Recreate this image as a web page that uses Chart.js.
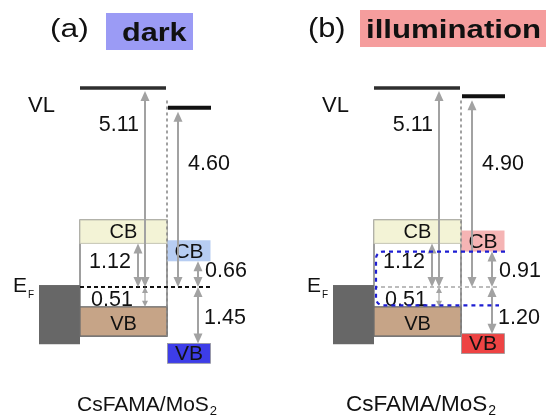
<!DOCTYPE html>
<html>
<head>
<meta charset="utf-8">
<script src="https://cdn.jsdelivr.net/npm/chart.js@4/dist/chart.umd.min.js"></script>
<style>
  html, body { margin: 0; padding: 0; background: #fff; }
  #wrap { width: 546px; height: 416px; }
</style>
</head>
<body>
<div id="wrap"><canvas id="bands" width="546" height="416"></canvas></div>
<script>
// Energy-level alignment of CsFAMA perovskite on MoS2 (eV, referenced to E_F = 0)
const panelTags     = ['(a)', '(b)'];
const conditions    = ['dark', 'illumination'];
const perovskiteVL  = [5.11, 5.11];   // vacuum level above E_F (work function)
const perovskiteCB  = [1.12, 1.12];   // CB minimum above E_F
const perovskiteVB  = [-0.51, -0.51]; // VB maximum below E_F
const mos2VL        = [4.60, 4.90];
const mos2CB        = [0.66, 0.91];
const mos2VB        = [-1.45, -1.20];
const quasiFermi    = [null, [0.91, -0.47]]; // split quasi-Fermi levels under light

// Visible energy window of the drawing
const Y_MIN = -3.313, Y_MAX = 7.370;

// Horizontal layout of one panel (x scale runs 0..546), and band thicknesses in eV
const panelOffset = [0, 294];
const L = {
  elec: [39, 80], pvk: [80, 167], mos: [167.5, 210.5],
  pvkVL: [80, 166], mosVL: [168, 211], efEnd: [212, 206],
  arrCB: 138, arrVL: 145, arrMosVL: 178, arrMos: 198,
  pvkCBh: 0.60, pvkVBh: 0.75, mosCBh: 0.54, mosVBh: 0.51, elecDepth: 1.47
};
const colors = {
  elec: '#676767', pvkCB: '#f3f3d6', pvkVB: '#c6a487', frame: '#6c6c6c',
  mosCB: ['#b7cdf2', '#f5b4b4'], mosVB: ['#3d3de8', '#ee4343'],
  tag: ['#9b9bf5', '#f59d9d'], arrow: '#a2a2a2', text: '#111',
  ef: ['#111', '#bcbcbc'], qf: '#1e1ed2'
};
const FONT = "'Liberation Sans', Arial, sans-serif";

// Straight level lines handled as line datasets
const datasets = [];
function seg(x0, x1, y0, y1, style) {
  datasets.push(Object.assign({
    data: [{ x: x0, y: y0 }, { x: x1, y: y1 }],
    pointRadius: 0, fill: false, tension: 0
  }, style));
}
for (let p = 0; p < 2; p++) {
  const o = panelOffset[p];
  seg(o + L.pvkVL[0], o + L.pvkVL[1], perovskiteVL[p], perovskiteVL[p], { borderColor: '#2e2e2e', borderWidth: 3.5 });
  seg(o + L.mosVL[0], o + L.mosVL[1], mos2VL[p], mos2VL[p], { borderColor: '#111', borderWidth: 4 });
  seg(o + L.pvk[0], o + L.efEnd[p], 0, 0, { borderColor: colors.ef[p], borderWidth: 2, borderDash: [4, 3] });
  seg(o + L.pvk[1], o + L.pvk[1], perovskiteVL[p] - 0.32, perovskiteVB[p] - L.pvkVBh,
      { borderColor: '#8a8a8a', borderWidth: 1.6, borderDash: [3, 3] });
}

function arrow(ctx, x, ya, yb, w, hw, hl, color) {
  const top = Math.min(ya, yb), bot = Math.max(ya, yb);
  ctx.save();
  ctx.strokeStyle = color; ctx.fillStyle = color; ctx.lineWidth = w;
  ctx.beginPath(); ctx.moveTo(x, top + hl - 1); ctx.lineTo(x, bot - hl + 1); ctx.stroke();
  ctx.beginPath(); ctx.moveTo(x, top); ctx.lineTo(x - hw / 2, top + hl); ctx.lineTo(x + hw / 2, top + hl); ctx.closePath(); ctx.fill();
  ctx.beginPath(); ctx.moveTo(x, bot); ctx.lineTo(x - hw / 2, bot - hl); ctx.lineTo(x + hw / 2, bot - hl); ctx.closePath(); ctx.fill();
  ctx.restore();
}

function text(ctx, str, x, y, size, opts) {
  opts = opts || {};
  ctx.save();
  ctx.font = (opts.bold ? 'bold ' : '') + size + 'px ' + FONT;
  ctx.fillStyle = opts.color || colors.text;
  ctx.textAlign = opts.align || 'left';
  ctx.textBaseline = opts.baseline || 'middle';
  const sx = opts.scaleX || 1;
  ctx.translate(x, y);
  ctx.scale(sx, 1);
  ctx.fillText(str, 0, 0);
  const w = ctx.measureText(str).width * sx;
  ctx.restore();
  return w;
}

const bandPlugin = {
  id: 'bandDiagram',
  beforeDatasetsDraw(chart) {
    const { ctx, scales: { x, y } } = chart;
    const rect = (x0, x1, e0, e1, fill, stroke, lw) => {
      const px = x.getPixelForValue(x0), pw = x.getPixelForValue(x1) - px;
      const py = y.getPixelForValue(e0), ph = y.getPixelForValue(e1) - py;
      ctx.fillStyle = fill; ctx.fillRect(px, py, pw, ph);
      if (stroke) { ctx.strokeStyle = stroke; ctx.lineWidth = lw || 1; ctx.strokeRect(px, py, pw, ph); }
    };
    ctx.save();
    for (let p = 0; p < 2; p++) {
      const o = panelOffset[p];
      // metal contact
      rect(o + L.elec[0], o + L.elec[1], 0.05, -L.elecDepth, colors.elec);
      // perovskite frame and bands
      rect(o + L.pvk[0], o + L.pvk[1], perovskiteCB[p] + L.pvkCBh, perovskiteVB[p] - L.pvkVBh, '#fff', colors.frame, 1.3);
      rect(o + L.pvk[0], o + L.pvk[1], perovskiteCB[p] + L.pvkCBh, perovskiteCB[p], colors.pvkCB, '#c4c4b4', 1);
      rect(o + L.pvk[0], o + L.pvk[1], perovskiteVB[p], perovskiteVB[p] - L.pvkVBh, colors.pvkVB, colors.frame, 1.3);
      // MoS2 bands
      rect(o + L.mos[0], o + L.mos[1], mos2CB[p] + L.mosCBh, mos2CB[p], colors.mosCB[p]);
      rect(o + L.mos[0], o + L.mos[1], mos2VB[p], mos2VB[p] - L.mosVBh, colors.mosVB[p], '#9a9a9a', 0.8);
    }
    ctx.restore();
  },
  afterDatasetsDraw(chart) {
    const { ctx, scales: { x, y } } = chart;
    const X = v => x.getPixelForValue(v), Y = v => y.getPixelForValue(v);
    for (let p = 0; p < 2; p++) {
      const o = panelOffset[p];
      const ef = Y(0);
      // band names
      const pvkMid = X(o + (L.pvk[0] + L.pvk[1]) / 2), mosMid = X(o + (L.mos[0] + L.mos[1]) / 2);
      text(ctx, 'CB', pvkMid, Y(perovskiteCB[p] + L.pvkCBh / 2) + 1, 20, { align: 'center' });
      text(ctx, 'VB', pvkMid, Y(perovskiteVB[p] - L.pvkVBh / 2) + 3, 20, { align: 'center' });
      text(ctx, 'CB', mosMid, Y(mos2CB[p] + L.mosCBh / 2) + 1, 21, { align: 'center' });
      text(ctx, 'VB', mosMid, Y(mos2VB[p] - L.mosVBh / 2) + 1, 21, { align: 'center' });

      // energy differences
      arrow(ctx, X(o + L.arrVL), Y(perovskiteVL[p]) + 3, ef, 2, 9, 10, colors.arrow);
      arrow(ctx, X(o + L.arrCB), Y(perovskiteCB[p]), ef, 2, 9, 10, colors.arrow);
      arrow(ctx, X(o + L.arrVL), ef, Y(perovskiteVB[p]), 1.2, 6, 6, colors.arrow);
      arrow(ctx, X(o + L.arrMosVL), Y(mos2VL[p]) + 4, ef, 2, 9, 10, colors.arrow);
      arrow(ctx, X(o + L.arrMos), Y(mos2CB[p]), ef, 2, 9, 10, colors.arrow);
      arrow(ctx, X(o + L.arrMos), ef, Y(mos2VB[p]), 2, 9, 10, colors.arrow);

      text(ctx, perovskiteVL[p].toFixed(2), X(o + 139), 125, 21.5, { align: 'right' });
      text(ctx, mos2VL[p].toFixed(2), X(o + 188), 164, 21.5);
      text(ctx, perovskiteCB[p].toFixed(2), X(o + 89), 262, 21.5);
      text(ctx, (-perovskiteVB[p]).toFixed(2), X(o + 91), 300, 21.5);
      text(ctx, mos2CB[p].toFixed(2), X(o + 205), 271, 21.5);
      text(ctx, (-mos2VB[p]).toFixed(2), X(o + 204), 318, 21.5);

      // axis-like labels
      text(ctx, 'VL', X(o + 28), 106, 22);
      const wE = text(ctx, 'E', X(o + 13), 286, 21);
      text(ctx, 'F', X(o + 13) + wE + 1, 295, 10);

      // split quasi-Fermi levels
      const qf = quasiFermi[p];
      if (qf) {
        const yU = Y(qf[0]), yL = Y(qf[1]), xl = X(o + 82), r = 7;
        ctx.save();
        ctx.strokeStyle = colors.qf; ctx.lineWidth = 2.2; ctx.setLineDash([4, 4]);
        ctx.beginPath();
        ctx.moveTo(X(o + 211), yU);
        ctx.lineTo(xl + r, yU);
        ctx.arcTo(xl, yU, xl, yU + r, r);
        ctx.lineTo(xl, yL - r);
        ctx.arcTo(xl, yL, xl + r, yL, r);
        ctx.lineTo(X(o + 205), yL);
        ctx.stroke();
        ctx.restore();
      }
    }

    // panel headings
    text(ctx, panelTags[0], 50, 37, 26, { baseline: 'alphabetic', scaleX: 1.22 });
    ctx.fillStyle = colors.tag[0]; ctx.fillRect(106, 13, 87, 37);
    text(ctx, conditions[0], 122, 41, 25.5, { baseline: 'alphabetic', bold: true, scaleX: 1.2 });
    text(ctx, panelTags[1], 308, 37, 27, { baseline: 'alphabetic', scaleX: 1.14 });
    ctx.fillStyle = colors.tag[1]; ctx.fillRect(360, 10, 190, 37);
    text(ctx, conditions[1], 366, 38, 26, { baseline: 'alphabetic', bold: true, scaleX: 1.2 });

    // sample names
    const names = [[77, 21], [346, 22.5]];
    for (const [nx, ns] of names) {
      const w = text(ctx, 'CsFAMA/MoS', nx, 411, ns, { baseline: 'alphabetic' });
      text(ctx, '2', nx + w + 1, 415, Math.round(ns * 0.6), { baseline: 'alphabetic' });
    }
  }
};

new Chart(document.getElementById('bands'), {
  type: 'line',
  data: { datasets },
  options: {
    responsive: false,
    animation: false,
    events: [],
    layout: { padding: 0 },
    plugins: { legend: { display: false }, tooltip: { enabled: false }, title: { display: false } },
    scales: {
      x: { type: 'linear', min: 0, max: 546, display: false },
      y: { type: 'linear', min: Y_MIN, max: Y_MAX, display: false }
    }
  },
  plugins: [bandPlugin]
});
</script>
</body>
</html>
